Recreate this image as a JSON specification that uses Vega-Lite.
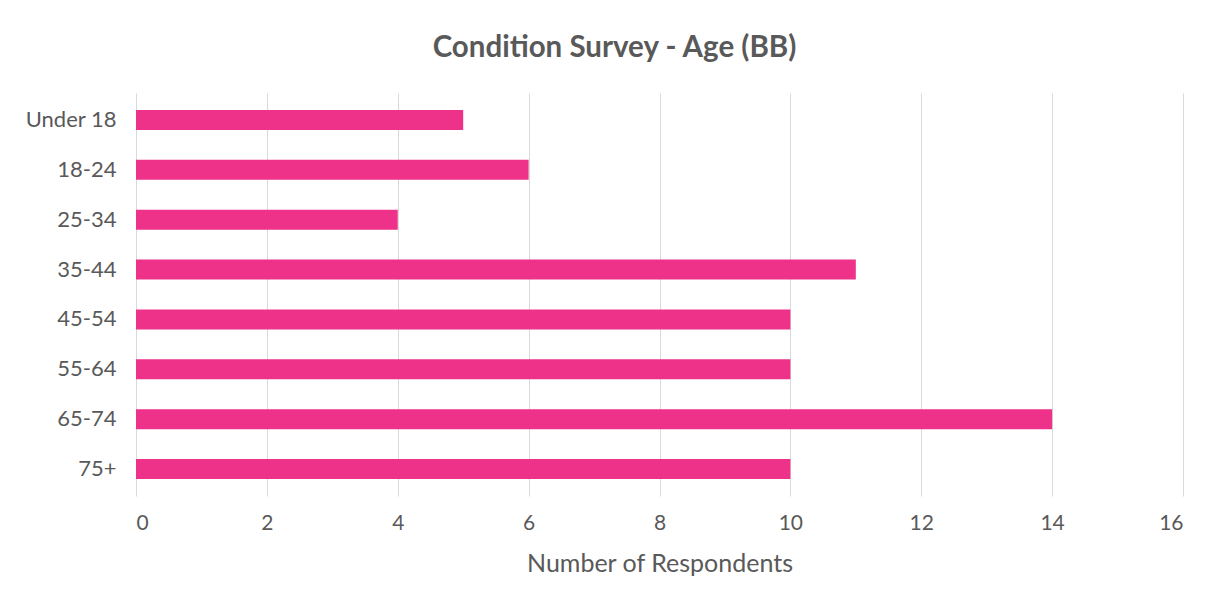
{
  "$schema": "https://vega.github.io/schema/vega-lite/v6.json",
  "width": 1047,
  "height": 403,
  "autosize": {"type": "none"},
  "padding": {"left": 136, "top": 93, "right": 25, "bottom": 102},
  "background": "white",
  "title": {
    "text": "Condition Survey - Age (BB)",
    "anchor": "middle",
    "dx": -45,
    "offset": 30,
    "font": "Lato",
    "fontSize": 29.5,
    "fontWeight": "bold",
    "color": "#595959"
  },
  "data": {
    "values": [
      {"age": "Under 18", "count": 5},
      {"age": "18-24", "count": 6},
      {"age": "25-34", "count": 4},
      {"age": "35-44", "count": 11},
      {"age": "45-54", "count": 10},
      {"age": "55-64", "count": 10},
      {"age": "65-74", "count": 14},
      {"age": "75+", "count": 10}
    ]
  },
  "mark": {"type": "bar", "color": "#EE3289"},
  "encoding": {
    "y": {
      "field": "age",
      "type": "nominal",
      "sort": null,
      "scale": {"paddingInner": 0.6, "paddingOuter": 0.34},
      "axis": {
        "title": null,
        "ticks": false,
        "domain": false,
        "labelPadding": 20,
        "labelFont": "Lato",
        "labelFontSize": 22,
        "labelColor": "#595959"
      }
    },
    "x": {
      "field": "count",
      "type": "quantitative",
      "scale": {"domain": [0, 16], "nice": false},
      "axis": {
        "title": "Number of Respondents",
        "values": [0, 2, 4, 6, 8, 10, 12, 14, 16],
        "ticks": false,
        "domain": false,
        "grid": true,
        "gridColor": "#D9D9D9",
        "gridWidth": 1,
        "labelPadding": 16,
        "labelFont": "Lato",
        "labelFontSize": 21,
        "labelColor": "#595959",
        "titleFont": "Lato",
        "titleFontSize": 25,
        "titleFontWeight": "normal",
        "titleColor": "#595959",
        "titlePadding": 18
      }
    }
  },
  "config": {"view": {"stroke": null}}
}
